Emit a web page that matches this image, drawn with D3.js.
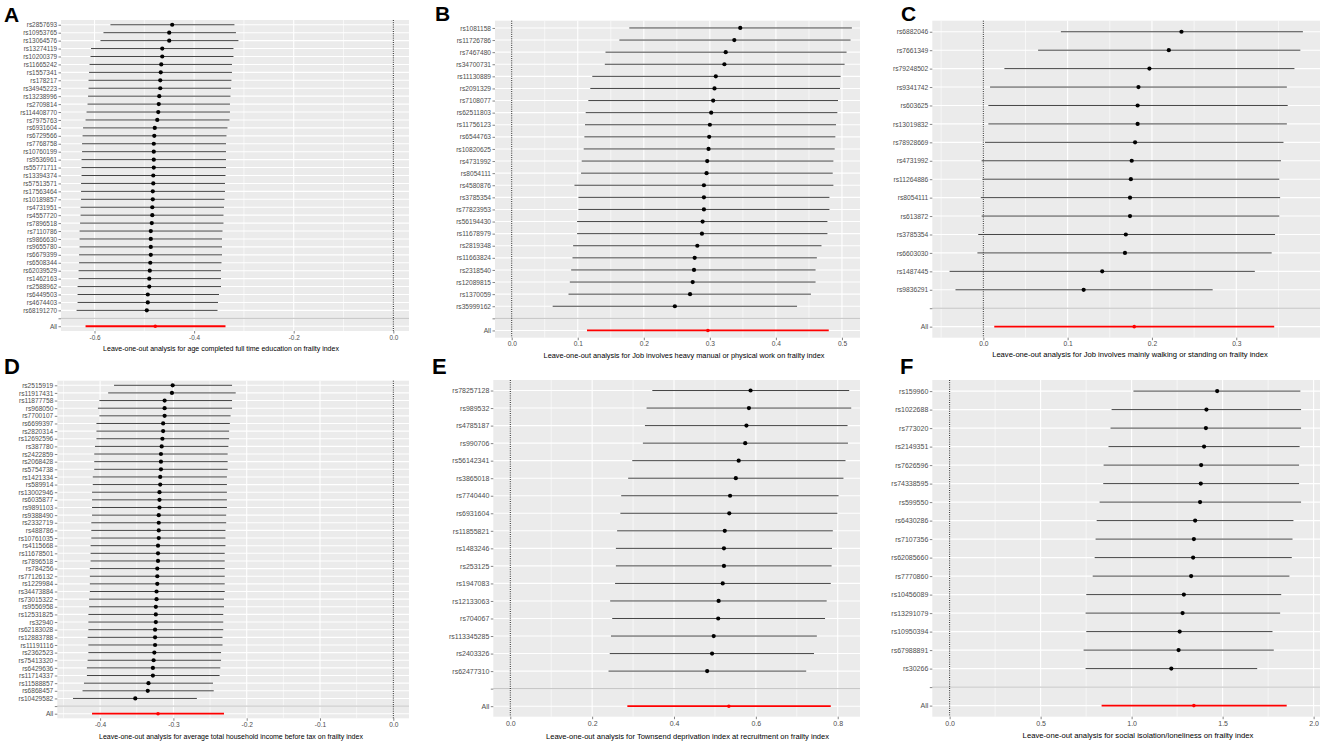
<!DOCTYPE html>
<html>
<head>
<meta charset="utf-8">
<script src="https://cdn.jsdelivr.net/npm/d3@7"></script>
<style>
    body { margin: 0; background: #fff; }
    svg { display: block; }
    text { font-family: "Liberation Sans", Arial, sans-serif; }
</style>
</head>
<body>
<div id="chart"></div>
<script>
// Leave-one-out MR plots, six exposures on frailty index

// A: age completed full time education
const snpsA = ["rs2857693","rs10953765","rs13064576","rs13274119","rs10200379","rs11665242","rs1557341","rs178217","rs34945223","rs13238996","rs2709814","rs114408770","rs7975763","rs6931604","rs6729566","rs7768758","rs10760199","rs9536961","rs55771711","rs13394374","rs57513571","rs17563464","rs10189857","rs4731951","rs4557720","rs7896518","rs7110786","rs9866630","rs9655780","rs6679399","rs6508344","rs62039529","rs1462163","rs2588962","rs6449503","rs4674403","rs68191270"];
const bA  = [-0.444,-0.450,-0.450,-0.464,-0.464,-0.466,-0.467,-0.468,-0.468,-0.470,-0.471,-0.472,-0.474,-0.479,-0.480,-0.481,-0.481,-0.481,-0.481,-0.482,-0.482,-0.483,-0.483,-0.484,-0.484,-0.485,-0.487,-0.487,-0.487,-0.487,-0.488,-0.489,-0.490,-0.490,-0.493,-0.493,-0.495];
const loA = [-0.568,-0.582,-0.588,-0.607,-0.608,-0.610,-0.611,-0.612,-0.612,-0.613,-0.614,-0.616,-0.618,-0.623,-0.624,-0.625,-0.625,-0.626,-0.626,-0.626,-0.627,-0.627,-0.627,-0.628,-0.628,-0.629,-0.630,-0.630,-0.630,-0.631,-0.631,-0.632,-0.632,-0.634,-0.634,-0.634,-0.636];
const hiA = [-0.319,-0.316,-0.311,-0.321,-0.321,-0.324,-0.324,-0.325,-0.326,-0.327,-0.328,-0.328,-0.329,-0.333,-0.335,-0.336,-0.336,-0.336,-0.336,-0.337,-0.338,-0.338,-0.339,-0.340,-0.341,-0.341,-0.343,-0.344,-0.344,-0.344,-0.345,-0.346,-0.346,-0.346,-0.350,-0.352,-0.353];
const allA = [-0.478, -0.618, -0.337];
const ticksA = [-0.6, -0.4, -0.2, 0.0];

// B: job involves heavy manual or physical work
const snpsB = ["rs1081158","rs11726786","rs7467480","rs34700731","rs11130889","rs2091329","rs7108077","rs62511803","rs11756123","rs6544763","rs10820625","rs4731992","rs8054111","rs4580876","rs3785354","rs77823953","rs56194430","rs11678979","rs2819348","rs11663824","rs2318540","rs12089815","rs1370059","rs35999162"];
const bB  = [0.346,0.337,0.324,0.322,0.309,0.307,0.305,0.302,0.300,0.299,0.298,0.296,0.295,0.291,0.291,0.291,0.289,0.288,0.281,0.277,0.276,0.274,0.270,0.247];
const loB = [0.178,0.163,0.142,0.141,0.122,0.119,0.116,0.112,0.111,0.110,0.109,0.106,0.105,0.095,0.101,0.101,0.099,0.099,0.093,0.092,0.090,0.088,0.086,0.062];
const hiB = [0.515,0.513,0.507,0.504,0.498,0.497,0.494,0.493,0.491,0.490,0.489,0.487,0.486,0.487,0.481,0.481,0.478,0.478,0.469,0.462,0.460,0.460,0.453,0.432];
const allB = [0.297, 0.114, 0.480];
const ticksB = [0.0, 0.1, 0.2, 0.3, 0.4, 0.5];

// C: job involves mainly walking or standing
const snpsC = ["rs6882046","rs7661349","rs79248502","rs9341742","rs603625","rs13019832","rs78928669","rs4731992","rs11264886","rs8054111","rs613872","rs3785354","rs6603030","rs1487445","rs9836291"];
const bC  = [0.235,0.220,0.197,0.184,0.183,0.183,0.180,0.176,0.175,0.174,0.174,0.169,0.168,0.141,0.119];
const loC = [0.092,0.065,0.025,0.008,0.006,0.006,0.002,-0.002,-0.001,-0.003,-0.002,-0.006,-0.007,-0.040,-0.033];
const hiC = [0.379,0.376,0.369,0.360,0.361,0.360,0.356,0.353,0.351,0.352,0.351,0.346,0.342,0.322,0.272];
const allC = [0.179, 0.013, 0.345];
const ticksC = [0.0, 0.1, 0.2, 0.3];

// D: average total household income before tax
const snpsD = ["rs2515919","rs11917431","rs11877758","rs968050","rs7700107","rs6699397","rs2820314","rs12692596","rs387780","rs2422859","rs2068428","rs5754738","rs1421334","rs589914","rs13002946","rs6035877","rs9891103","rs9388490","rs2332719","rs488786","rs10761035","rs4115668","rs11678501","rs7896518","rs784256","rs77126132","rs1229984","rs34473884","rs73015322","rs9556958","rs12531825","rs32940","rs62183028","rs12883788","rs11191116","rs2362523","rs75413320","rs6429636","rs11714337","rs11588857","rs6868457","rs10429582"];
const bD  = [-0.301,-0.302,-0.312,-0.312,-0.312,-0.314,-0.314,-0.315,-0.316,-0.317,-0.317,-0.317,-0.318,-0.318,-0.319,-0.319,-0.319,-0.320,-0.320,-0.320,-0.320,-0.321,-0.321,-0.321,-0.322,-0.322,-0.322,-0.323,-0.323,-0.324,-0.324,-0.324,-0.325,-0.325,-0.325,-0.326,-0.327,-0.328,-0.328,-0.334,-0.335,-0.352];
const loD = [-0.381,-0.389,-0.401,-0.403,-0.401,-0.405,-0.405,-0.405,-0.407,-0.408,-0.408,-0.408,-0.410,-0.410,-0.411,-0.411,-0.411,-0.411,-0.412,-0.412,-0.412,-0.413,-0.413,-0.413,-0.414,-0.414,-0.414,-0.414,-0.415,-0.415,-0.416,-0.416,-0.416,-0.417,-0.416,-0.416,-0.417,-0.418,-0.418,-0.422,-0.424,-0.437];
const hiD = [-0.220,-0.215,-0.220,-0.220,-0.222,-0.223,-0.224,-0.224,-0.225,-0.226,-0.226,-0.226,-0.227,-0.227,-0.227,-0.227,-0.227,-0.228,-0.228,-0.229,-0.229,-0.229,-0.230,-0.230,-0.230,-0.230,-0.230,-0.230,-0.231,-0.231,-0.232,-0.232,-0.232,-0.233,-0.233,-0.235,-0.235,-0.236,-0.237,-0.246,-0.245,-0.268];
const allD = [-0.321, -0.411, -0.231];
const ticksD = [-0.4, -0.3, -0.2, -0.1, 0.0];

// E: Townsend deprivation index at recruitment
const snpsE = ["rs78257128","rs989532","rs4785187","rs990706","rs56142341","rs3865018","rs7740440","rs6931604","rs11855821","rs1483246","rs253125","rs1947083","rs12133063","rs704067","rs113345285","rs2403326","rs62477310"];
const bE  = [0.587,0.583,0.577,0.574,0.558,0.551,0.537,0.535,0.524,0.522,0.522,0.519,0.509,0.508,0.497,0.493,0.481];
const loE = [0.347,0.333,0.329,0.324,0.298,0.288,0.271,0.269,0.261,0.258,0.258,0.256,0.244,0.249,0.246,0.243,0.240];
const hiE = [0.828,0.833,0.824,0.825,0.819,0.814,0.802,0.799,0.788,0.786,0.785,0.783,0.773,0.769,0.749,0.742,0.723];
const allE = [0.534, 0.286, 0.783];
const ticksE = [0.0, 0.2, 0.4, 0.6, 0.8];

// F: social isolation/loneliness
const snpsF = ["rs159960","rs1022688","rs773020","rs2149351","rs7626596","rs74338595","rs599550","rs6430286","rs7107356","rs62085660","rs7770860","rs10456089","rs13291079","rs10950394","rs67988891","rs30266"];
const bF  = [1.470,1.411,1.408,1.398,1.382,1.380,1.376,1.349,1.342,1.338,1.327,1.287,1.280,1.264,1.258,1.218];
const loF = [1.010,0.890,0.884,0.873,0.846,0.844,0.824,0.808,0.802,0.797,0.786,0.751,0.747,0.751,0.736,0.747];
const hiF = [1.927,1.931,1.931,1.923,1.920,1.920,1.931,1.889,1.884,1.880,1.867,1.822,1.816,1.774,1.781,1.690];
const allF = [1.342, 0.835, 1.852];
const ticksF = [0.0, 0.5, 1.0, 1.5, 2.0];

const titles = [
    "Leave-one-out analysis for age completed full time education on frailty index",
    "Leave-one-out analysis for Job involves heavy manual or physical work on frailty index",
    "Leave-one-out analysis for Job involves mainly walking or standing on frailty index",
    "Leave-one-out analysis for average total household income before tax on frailty index",
    "Leave-one-out analysis for Townsend deprivation index at recruitment on frailty index",
    "Leave-one-out analysis for social isolation/loneliness on frailty index"
];
const letters = ["A", "B", "C", "D", "E", "F"];

// layout of each panel (pixel box, axis limits, label/title placement)
const panels = [
    { snps: snpsA, b: bA, lo: loA, hi: hiA, all: allA, ticks: ticksA,
      box: [61, 409, 20, 331], dom: [-0.6673, 0.0315], fs: 6.4,
      letter: [4, 22, 21], title: [221, 350.8, 7] },
    { snps: snpsB, b: bB, lo: loB, hi: hiB, all: allB, ticks: ticksB,
      box: [495, 860, 20.7, 337.7], dom: [-0.0253, 0.5273], fs: 6.6,
      letter: [435, 21, 21], title: [684, 357.5, 7.35] },
    { snps: snpsC, b: bC, lo: loC, hi: hiC, all: allC, ticks: ticksC,
      box: [932.3, 1320, 20.7, 337.7], dom: [-0.0605, 0.3993], fs: 6.7,
      letter: [901, 21, 21], title: [1130, 356.5, 7.6] },
    { snps: snpsD, b: bD, lo: loD, hi: hiD, all: allD, ticks: ticksD,
      box: [57.3, 409, 380.7, 718.3], dom: [-0.4584, 0.0214], fs: 6.6,
      letter: [4, 373.5, 22], title: [231, 739, 7] },
    { snps: snpsE, b: bE, lo: loE, hi: hiE, all: allE, ticks: ticksE,
      box: [493.3, 860, 380, 716.7], dom: [-0.0415, 0.8544], fs: 7,
      letter: [432, 373.5, 22], title: [687.5, 738.5, 7.55] },
    { snps: snpsF, b: bF, lo: loF, hi: hiF, all: allF, ticks: ticksF,
      box: [932.3, 1320, 380, 716.7], dom: [-0.0952, 2.035], fs: 7,
      letter: [900, 373.5, 22], title: [1138, 738, 7.7] }
];

const svg = d3.select('#chart')
    .append('svg')
    .attr('width', 1325)
    .attr('height', 744);

function drawPanel(p, i) {
    const [x0, x1, y0, y1] = p.box;
    const g = svg.append('g');

    const x = d3.scaleLinear().domain(p.dom).range([x0, x1]);
    const cats = p.snps.concat(['', 'All']);
    const y = d3.scalePoint().domain(cats).range([y0, y1]).padding(0.6);

    // panel background
    g.append('rect')
        .attr('x', x0).attr('y', y0)
        .attr('width', x1 - x0).attr('height', y1 - y0)
        .attr('fill', '#ebebeb');

    // minor grid
    const step = p.ticks[1] - p.ticks[0];
    const minors = d3.range(p.ticks[0] - step / 2, p.dom[1], step).filter(v => v >= p.dom[0]);
    g.selectAll('.minor')
        .data(minors)
        .enter()
        .append('line')
        .attr('x1', d => x(d)).attr('x2', d => x(d))
        .attr('y1', y0).attr('y2', y1)
        .attr('stroke', '#fff')
        .attr('stroke-width', 0.6);

    // major grid
    g.selectAll('.vmajor')
        .data(p.ticks)
        .enter()
        .append('line')
        .attr('x1', d => x(d)).attr('x2', d => x(d))
        .attr('y1', y0).attr('y2', y1)
        .attr('stroke', '#fff')
        .attr('stroke-width', 1.1);

    g.selectAll('.hmajor')
        .data(cats)
        .enter()
        .append('line')
        .attr('x1', x0).attr('x2', x1)
        .attr('y1', d => y(d)).attr('y2', d => y(d))
        .attr('stroke', '#fff')
        .attr('stroke-width', 1.1);

    // separator above the overall estimate
    g.append('line')
        .attr('x1', x0).attr('x2', x1)
        .attr('y1', y('')).attr('y2', y(''))
        .attr('stroke', '#bebebe')
        .attr('stroke-width', 1);

    // null line
    g.append('line')
        .attr('x1', x(0)).attr('x2', x(0))
        .attr('y1', y0).attr('y2', y1)
        .attr('stroke', '#000')
        .attr('stroke-width', 0.9)
        .attr('stroke-dasharray', '1,1.2');

    const rows = p.snps.map((s, k) => ({ snp: s, b: p.b[k], lo: p.lo[k], hi: p.hi[k] }));

    // leave-one-out CIs
    g.selectAll('.ci')
        .data(rows)
        .enter()
        .append('line')
        .attr('x1', d => x(d.lo)).attr('x2', d => x(d.hi))
        .attr('y1', d => y(d.snp)).attr('y2', d => y(d.snp))
        .attr('stroke', '#444')
        .attr('stroke-width', 1);

    g.selectAll('.pt')
        .data(rows)
        .enter()
        .append('circle')
        .attr('cx', d => x(d.b))
        .attr('cy', d => y(d.snp))
        .attr('r', 2.1)
        .attr('fill', '#000');

    // overall estimate in red
    g.append('line')
        .attr('x1', x(p.all[1])).attr('x2', x(p.all[2]))
        .attr('y1', y('All')).attr('y2', y('All'))
        .attr('stroke', '#ff0000')
        .attr('stroke-width', 1.8);
    g.append('circle')
        .attr('cx', x(p.all[0]))
        .attr('cy', y('All'))
        .attr('r', 1.8)
        .attr('fill', '#ff0000');

    // axes
    const xAxis = g.append('g')
        .attr('transform', `translate(0,${y1})`)
        .call(d3.axisBottom(x)
            .tickValues(p.ticks)
            .tickSize(2.5)
            .tickPadding(1.5)
            .tickFormat(v => v.toFixed(1)));
    const yAxis = g.append('g')
        .attr('transform', `translate(${x0},0)`)
        .call(d3.axisLeft(y).tickSize(2.5).tickPadding(1.5));

    [xAxis, yAxis].forEach(ax => {
        ax.select('.domain').remove();
        ax.selectAll('.tick line').attr('stroke', '#333').attr('stroke-width', 0.6);
        ax.selectAll('.tick text')
            .style('font-family', '"Liberation Sans", Arial, sans-serif')
            .style('font-size', p.fs + 'px')
            .attr('fill', '#4d4d4d');
    });

    // x axis title
    g.append('text')
        .attr('x', p.title[0])
        .attr('y', p.title[1])
        .attr('text-anchor', 'middle')
        .style('font-size', p.title[2] + 'px')
        .style('fill', '#000')
        .text(titles[i]);

    // panel letter
    g.append('text')
        .attr('x', p.letter[0])
        .attr('y', p.letter[1])
        .style('font-size', p.letter[2] + 'px')
        .style('font-weight', 'bold')
        .style('fill', '#000')
        .text(letters[i]);
}

panels.forEach(drawPanel);
</script>
</body>
</html>
